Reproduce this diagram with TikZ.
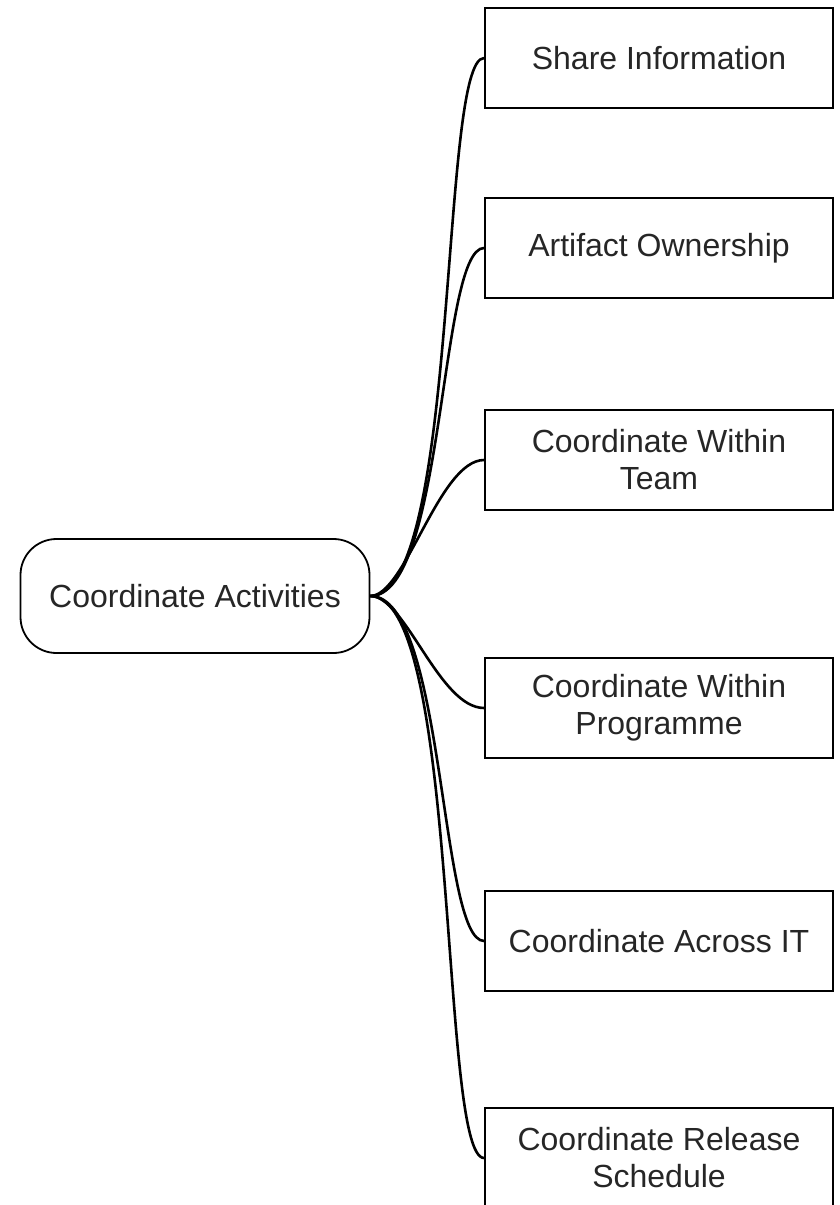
\documentclass[tikz,border=0pt]{standalone}
\usepackage{fontspec}
\setmainfont{Liberation Sans}

\begin{document}
\begin{tikzpicture}[x=1pt, y=-1pt]
		\tikzstyle{leaf}=[draw, line width=1.8pt, minimum width=348pt, minimum height=100pt, inner sep=0pt, align=center, text=black!85, font=\fontsize{32}{37}\selectfont]
		\tikzstyle{topic}=[leaf, minimum width=349pt, minimum height=114pt, rounded corners=36pt]
		\tikzstyle{branch}=[line width=2.6pt]
		\clip (0,0) rectangle (840,1205);
		\node[topic](act) at (195, 596) {Coordinate Activities};
		
		\foreach \n/\y/\t in {1/58/{Share Information}, 2/248/{Artifact Ownership}, 3/460/{Coordinate Within\\Team}, 4/708/{Coordinate Within\\Programme}, 5/941/{Coordinate Across IT}, 6/1158/{Coordinate Release\\Schedule}}
		\node[leaf](leaf-\n) at (659, \y) {\t};
		
		\foreach \n/\a in {1/90, 2/75, 3/35, 4/35, 5/75, 6/90}
		\draw[branch] (act.east) .. controls +(\a,0) and +(-45,0) .. (leaf-\n.west);
\end{tikzpicture}
\end{document}
